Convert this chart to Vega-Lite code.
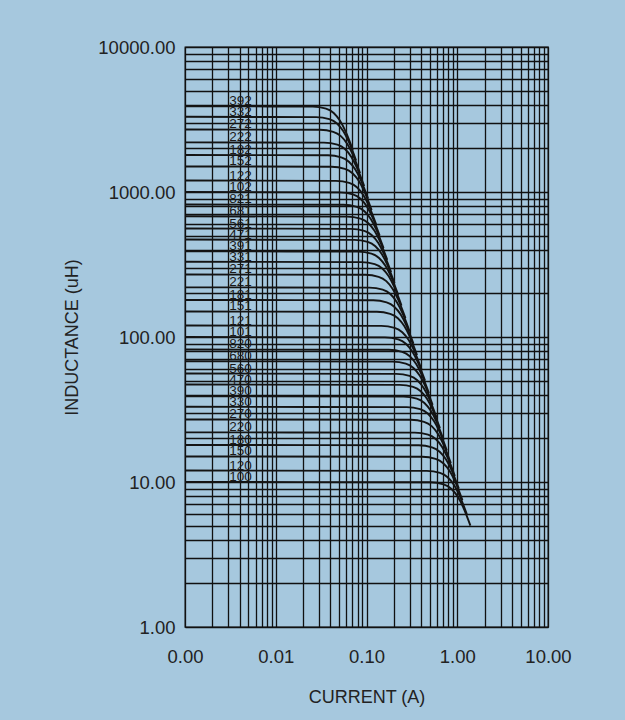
{
  "$schema": "https://vega.github.io/schema/vega-lite/v6.json",
  "width": 363,
  "height": 580,
  "autosize": "none",
  "padding": {"left": 185, "top": 47, "right": 77, "bottom": 93},
  "background": "#a6c8de",
  "config": {
    "view": {"stroke": "#111111", "strokeWidth": 1.3},
    "font": "Liberation Sans",
    "axis": {
      "domain": false,
      "ticks": false,
      "tickSize": 0,
      "grid": true,
      "gridColor": "#111111",
      "gridOpacity": 1,
      "gridWidth": 1.3,
      "labelFont": "Liberation Sans",
      "labelFontSize": 18.5,
      "labelColor": "#222222",
      "labelOverlap": false,
      "labelFlush": false,
      "labelBound": false,
      "titleFont": "Liberation Sans",
      "titleFontSize": 18,
      "titleFontWeight": "normal",
      "titleColor": "#222222"
    }
  },
  "datasets": {
    "curves": [
      {"c":"100","i":0.001,"l":10},{"c":"100","i":0.505,"l":9.949},{"c":"100","i":0.707,"l":9.636},{"c":"100","i":0.8585,"l":8.988},{"c":"100","i":1.01,"l":7.937},{"c":"100","i":1.1614,"l":6.708},{"c":"100","i":1.3968,"l":5},
      {"c":"120","i":0.001,"l":12},{"c":"120","i":0.461,"l":11.94},{"c":"120","i":0.6454,"l":11.563},{"c":"120","i":0.7837,"l":10.786},{"c":"120","i":0.922,"l":9.524},{"c":"120","i":1.0602,"l":8.05},{"c":"120","i":1.2751,"l":6},
      {"c":"150","i":0.001,"l":15},{"c":"150","i":0.4123,"l":14.92},{"c":"150","i":0.5772,"l":14.454},{"c":"150","i":0.7009,"l":13.482},{"c":"150","i":0.8246,"l":11.906},{"c":"150","i":0.9483,"l":10.062},{"c":"150","i":1.1404,"l":7.5},
      {"c":"180","i":0.001,"l":18},{"c":"180","i":0.3764,"l":17.907},{"c":"180","i":0.5269,"l":17.345},{"c":"180","i":0.6399,"l":16.179},{"c":"180","i":0.7528,"l":14.287},{"c":"180","i":0.8657,"l":12.075},{"c":"180","i":1.0411,"l":9},
      {"c":"220","i":0.001,"l":22},{"c":"220","i":0.3405,"l":21.887},{"c":"220","i":0.4766,"l":21.199},{"c":"220","i":0.5788,"l":19.774},{"c":"220","i":0.6809,"l":17.461},{"c":"220","i":0.783,"l":14.758},{"c":"220","i":0.9417,"l":11},
      {"c":"270","i":0.001,"l":27},{"c":"270","i":0.3073,"l":26.861},{"c":"270","i":0.4303,"l":26.017},{"c":"270","i":0.5224,"l":24.268},{"c":"270","i":0.6146,"l":21.43},{"c":"270","i":0.7068,"l":18.112},{"c":"270","i":0.85,"l":13.5},
      {"c":"330","i":0.001,"l":33},{"c":"330","i":0.278,"l":32.83},{"c":"330","i":0.3892,"l":31.799},{"c":"330","i":0.4726,"l":29.661},{"c":"330","i":0.556,"l":26.192},{"c":"330","i":0.6394,"l":22.137},{"c":"330","i":0.7689,"l":16.5},
      {"c":"390","i":0.001,"l":39},{"c":"390","i":0.2557,"l":38.799},{"c":"390","i":0.358,"l":37.58},{"c":"390","i":0.4347,"l":35.054},{"c":"390","i":0.5114,"l":30.954},{"c":"390","i":0.5881,"l":26.162},{"c":"390","i":0.7073,"l":19.5},
      {"c":"470","i":0.001,"l":47},{"c":"470","i":0.2329,"l":46.758},{"c":"470","i":0.3261,"l":45.289},{"c":"470","i":0.396,"l":42.245},{"c":"470","i":0.4659,"l":37.304},{"c":"470","i":0.5357,"l":31.529},{"c":"470","i":0.6443,"l":23.5},
      {"c":"560","i":0.001,"l":56},{"c":"560","i":0.2134,"l":55.712},{"c":"560","i":0.2987,"l":53.962},{"c":"560","i":0.3628,"l":50.334},{"c":"560","i":0.4268,"l":44.447},{"c":"560","i":0.4908,"l":37.566},{"c":"560","i":0.5902,"l":28},
      {"c":"680","i":0.001,"l":68},{"c":"680","i":0.1937,"l":67.65},{"c":"680","i":0.2711,"l":65.525},{"c":"680","i":0.3292,"l":61.12},{"c":"680","i":0.3873,"l":53.972},{"c":"680","i":0.4454,"l":45.616},{"c":"680","i":0.5356,"l":34},
      {"c":"820","i":0.001,"l":82},{"c":"820","i":0.1763,"l":81.578},{"c":"820","i":0.2469,"l":79.015},{"c":"820","i":0.2998,"l":73.703},{"c":"820","i":0.3527,"l":65.083},{"c":"820","i":0.4056,"l":55.008},{"c":"820","i":0.4878,"l":41},
      {"c":"101","i":0.001,"l":100},{"c":"101","i":0.1597,"l":99.485},{"c":"101","i":0.2236,"l":96.36},{"c":"101","i":0.2715,"l":89.882},{"c":"101","i":0.3194,"l":79.37},{"c":"101","i":0.3673,"l":67.083},{"c":"101","i":0.4417,"l":50},
      {"c":"121","i":0.001,"l":120},{"c":"121","i":0.1458,"l":119.38},{"c":"121","i":0.2041,"l":115.63},{"c":"121","i":0.2478,"l":107.86},{"c":"121","i":0.2916,"l":95.24},{"c":"121","i":0.3353,"l":80.5},{"c":"121","i":0.4032,"l":60},
      {"c":"151","i":0.001,"l":150},{"c":"151","i":0.1304,"l":149.23},{"c":"151","i":0.1825,"l":144.54},{"c":"151","i":0.2217,"l":134.82},{"c":"151","i":0.2608,"l":119.06},{"c":"151","i":0.2999,"l":100.62},{"c":"151","i":0.3606,"l":75},
      {"c":"181","i":0.001,"l":180},{"c":"181","i":0.119,"l":179.07},{"c":"181","i":0.1666,"l":173.45},{"c":"181","i":0.2023,"l":161.79},{"c":"181","i":0.2381,"l":142.87},{"c":"181","i":0.2738,"l":120.75},{"c":"181","i":0.3292,"l":90},
      {"c":"221","i":0.001,"l":220},{"c":"221","i":0.1077,"l":218.87},{"c":"221","i":0.1507,"l":211.99},{"c":"221","i":0.183,"l":197.74},{"c":"221","i":0.2153,"l":174.61},{"c":"221","i":0.2476,"l":147.58},{"c":"221","i":0.2978,"l":110},
      {"c":"271","i":0.001,"l":270},{"c":"271","i":0.0972,"l":268.61},{"c":"271","i":0.1361,"l":260.17},{"c":"271","i":0.1652,"l":242.68},{"c":"271","i":0.1944,"l":214.3},{"c":"271","i":0.2235,"l":181.12},{"c":"271","i":0.2688,"l":135},
      {"c":"331","i":0.001,"l":330},{"c":"331","i":0.0879,"l":328.3},{"c":"331","i":0.1231,"l":317.99},{"c":"331","i":0.1494,"l":296.61},{"c":"331","i":0.1758,"l":261.92},{"c":"331","i":0.2022,"l":221.37},{"c":"331","i":0.2431,"l":165},
      {"c":"391","i":0.001,"l":390},{"c":"391","i":0.0809,"l":387.99},{"c":"391","i":0.1132,"l":375.8},{"c":"391","i":0.1375,"l":350.54},{"c":"391","i":0.1617,"l":309.54},{"c":"391","i":0.186,"l":261.62},{"c":"391","i":0.2237,"l":195},
      {"c":"471","i":0.001,"l":470},{"c":"471","i":0.0737,"l":467.58},{"c":"471","i":0.1031,"l":452.89},{"c":"471","i":0.1252,"l":422.45},{"c":"471","i":0.1473,"l":373.04},{"c":"471","i":0.1694,"l":315.29},{"c":"471","i":0.2037,"l":235},
      {"c":"561","i":0.001,"l":560},{"c":"561","i":0.0675,"l":557.12},{"c":"561","i":0.0945,"l":539.62},{"c":"561","i":0.1147,"l":503.34},{"c":"561","i":0.135,"l":444.47},{"c":"561","i":0.1552,"l":375.66},{"c":"561","i":0.1867,"l":280},
      {"c":"681","i":0.001,"l":680},{"c":"681","i":0.0612,"l":676.5},{"c":"681","i":0.0857,"l":655.25},{"c":"681","i":0.1041,"l":611.2},{"c":"681","i":0.1225,"l":539.72},{"c":"681","i":0.1408,"l":456.16},{"c":"681","i":0.1694,"l":340},
      {"c":"821","i":0.001,"l":820},{"c":"821","i":0.0558,"l":815.78},{"c":"821","i":0.0781,"l":790.15},{"c":"821","i":0.0948,"l":737.03},{"c":"821","i":0.1115,"l":650.83},{"c":"821","i":0.1283,"l":550.08},{"c":"821","i":0.1542,"l":410},
      {"c":"102","i":0.001,"l":1000},{"c":"102","i":0.0505,"l":994.85},{"c":"102","i":0.0707,"l":963.6},{"c":"102","i":0.0859,"l":898.82},{"c":"102","i":0.101,"l":793.7},{"c":"102","i":0.1162,"l":670.83},{"c":"102","i":0.1397,"l":500},
      {"c":"122","i":0.001,"l":1200},{"c":"122","i":0.0461,"l":1193.8},{"c":"122","i":0.0645,"l":1156.3},{"c":"122","i":0.0784,"l":1078.6},{"c":"122","i":0.0922,"l":952.4},{"c":"122","i":0.106,"l":805},{"c":"122","i":0.1275,"l":600},
      {"c":"152","i":0.001,"l":1500},{"c":"152","i":0.0412,"l":1492.3},{"c":"152","i":0.0577,"l":1445.4},{"c":"152","i":0.0701,"l":1348.2},{"c":"152","i":0.0825,"l":1190.6},{"c":"152","i":0.0948,"l":1006.2},{"c":"152","i":0.114,"l":750},
      {"c":"182","i":0.001,"l":1800},{"c":"182","i":0.0376,"l":1790.7},{"c":"182","i":0.0527,"l":1734.5},{"c":"182","i":0.064,"l":1617.9},{"c":"182","i":0.0753,"l":1428.7},{"c":"182","i":0.0866,"l":1207.5},{"c":"182","i":0.1041,"l":900},
      {"c":"222","i":0.001,"l":2200},{"c":"222","i":0.034,"l":2188.7},{"c":"222","i":0.0477,"l":2119.9},{"c":"222","i":0.0579,"l":1977.4},{"c":"222","i":0.0681,"l":1746.1},{"c":"222","i":0.0783,"l":1475.8},{"c":"222","i":0.0942,"l":1100},
      {"c":"272","i":0.001,"l":2700},{"c":"272","i":0.0307,"l":2686.1},{"c":"272","i":0.043,"l":2601.7},{"c":"272","i":0.0522,"l":2426.8},{"c":"272","i":0.0615,"l":2143},{"c":"272","i":0.0707,"l":1811.2},{"c":"272","i":0.085,"l":1350},
      {"c":"332","i":0.001,"l":3300},{"c":"332","i":0.0278,"l":3283},{"c":"332","i":0.0389,"l":3179.9},{"c":"332","i":0.0473,"l":2966.1},{"c":"332","i":0.0556,"l":2619.2},{"c":"332","i":0.0639,"l":2213.7},{"c":"332","i":0.0769,"l":1650},
      {"c":"392","i":0.001,"l":3900},{"c":"392","i":0.0256,"l":3879.9},{"c":"392","i":0.0358,"l":3758},{"c":"392","i":0.0435,"l":3505.4},{"c":"392","i":0.0511,"l":3095.4},{"c":"392","i":0.0588,"l":2616.2},{"c":"392","i":0.0707,"l":1950}
    ],
    "labels": [
      {"c":"100","l":10},{"c":"120","l":12},{"c":"150","l":15},{"c":"180","l":18},
      {"c":"220","l":22},{"c":"270","l":27},{"c":"330","l":33},{"c":"390","l":39},
      {"c":"470","l":47},{"c":"560","l":56},{"c":"680","l":68},{"c":"820","l":82},
      {"c":"101","l":100},{"c":"121","l":120},{"c":"151","l":150},{"c":"181","l":180},
      {"c":"221","l":220},{"c":"271","l":270},{"c":"331","l":330},{"c":"391","l":390},
      {"c":"471","l":470},{"c":"561","l":560},{"c":"681","l":680},{"c":"821","l":820},
      {"c":"102","l":1000},{"c":"122","l":1200},{"c":"152","l":1500},{"c":"182","l":1800},
      {"c":"222","l":2200},{"c":"272","l":2700},{"c":"332","l":3300},{"c":"392","l":3900}
    ]
  },
  "layer": [
    {
      "data": {"name": "curves"},
      "mark": {"type": "line", "interpolate": "monotone", "stroke": "#141414", "strokeWidth": 1.9},
      "encoding": {
        "x": {
          "field": "i",
          "type": "quantitative",
          "title": "CURRENT (A)",
          "scale": {"type": "log", "domain": [0.001, 10], "nice": false},
          "axis": {
            "values": [0.001,0.002,0.003,0.004,0.005,0.006,0.007,0.008,0.009,0.01,0.02,0.03,0.04,0.05,0.06,0.07,0.08,0.09,0.1,0.2,0.3,0.4,0.5,0.6,0.7,0.8,0.9,1,2,3,4,5,6,7,8,9,10],
            "labelExpr": "indexof([0.001, 0.01, 0.1, 1, 10], datum.value) >= 0 ? format(datum.value, '.2f') : ''",
            "labelBaseline": "alphabetic",
            "labelPadding": 35,
            "titleBaseline": "alphabetic",
            "titleY": 75
          }
        },
        "y": {
          "field": "l",
          "type": "quantitative",
          "title": "INDUCTANCE (uH)",
          "scale": {"type": "log", "domain": [1, 10000], "nice": false},
          "axis": {
            "values": [1,2,3,4,5,6,7,8,9,10,20,30,40,50,60,70,80,90,100,200,300,400,500,600,700,800,900,1000,2000,3000,4000,5000,6000,7000,8000,9000,10000],
            "labelExpr": "indexof([1, 10, 100, 1000, 10000], datum.value) >= 0 ? format(datum.value, '.2f') : ''",
            "labelPadding": 10,
            "titleBaseline": "alphabetic",
            "titleX": -108
          }
        },
        "detail": {"field": "c", "type": "nominal"}
      }
    },
    {
      "data": {"name": "labels"},
      "mark": {"type": "text", "align": "left", "baseline": "alphabetic", "dx": 1, "dy": -1, "fontSize": 13.5, "font": "Liberation Sans", "fill": "#1a1a1a"},
      "encoding": {
        "x": {"datum": 0.003, "type": "quantitative"},
        "y": {"field": "l", "type": "quantitative"},
        "text": {"field": "c", "type": "nominal"}
      }
    }
  ]
}
